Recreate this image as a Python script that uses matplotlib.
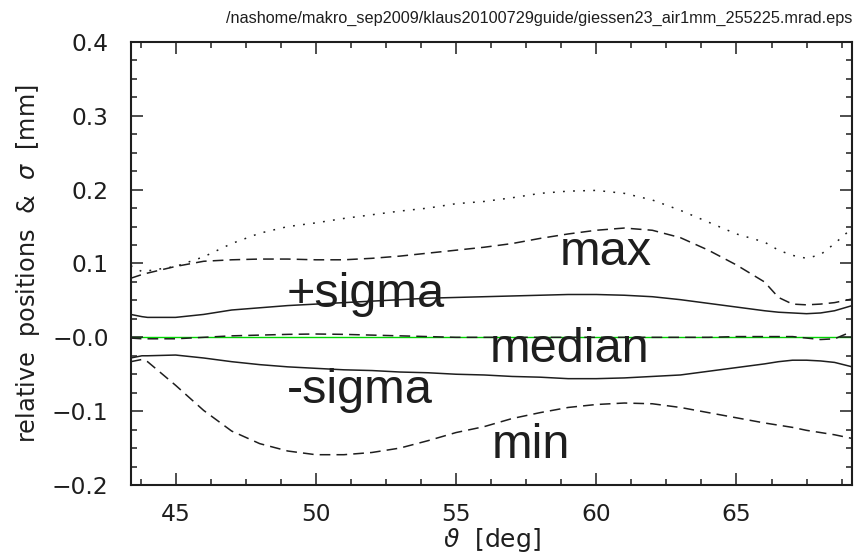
import matplotlib
matplotlib.use('Agg')
import matplotlib.pyplot as plt
from matplotlib.ticker import MultipleLocator, FixedLocator, FixedFormatter

# theta grid [deg] and curves [mm]
theta = [43.4, 43.8, 44, 45, 46, 47, 48, 49, 50, 51, 52, 53, 54, 55, 56, 57,
         58, 59, 60, 61, 62, 63, 64, 65, 66, 66.5, 67, 67.5, 68, 68.5, 69.13]

upper_dotted = [0.097, 0.089, 0.090, 0.096, 0.109, 0.127, 0.141, 0.150, 0.155, 0.161,
                0.166, 0.171, 0.175, 0.181, 0.184, 0.189, 0.195, 0.198, 0.199, 0.195,
                0.186, 0.172, 0.156, 0.140, 0.129, 0.118, 0.111, 0.107, 0.112, 0.127, 0.148]

max_pos = [0.080, 0.085, 0.087, 0.096, 0.103, 0.105, 0.106, 0.106, 0.105, 0.105,
           0.107, 0.110, 0.114, 0.118, 0.122, 0.127, 0.134, 0.140, 0.145, 0.148,
           0.145, 0.135, 0.118, 0.098, 0.075, 0.054, 0.045, 0.044, 0.045, 0.047, 0.052]

plus_sigma = [0.031, 0.028, 0.027, 0.027, 0.031, 0.037, 0.040, 0.043, 0.045, 0.047,
              0.049, 0.051, 0.053, 0.054, 0.055, 0.056, 0.057, 0.058, 0.058, 0.057,
              0.055, 0.051, 0.046, 0.041, 0.036, 0.034, 0.033, 0.032, 0.033, 0.036, 0.043]

median = [-0.001, -0.002, -0.002, -0.002, 0.000, 0.002, 0.003, 0.004, 0.0045, 0.004,
          0.003, 0.002, 0.001, 0.000, 0.000, 0.000, 0.000, 0.000, 0.000, 0.000,
          0.000, 0.000, 0.000, 0.001, 0.001, 0.001, 0.001, -0.001, -0.003, -0.002, 0.008]

minus_sigma = [-0.028, -0.025, -0.025, -0.024, -0.028, -0.033, -0.037, -0.040, -0.042, -0.044,
               -0.045, -0.047, -0.048, -0.050, -0.051, -0.053, -0.054, -0.056, -0.056, -0.055,
               -0.053, -0.051, -0.046, -0.041, -0.036, -0.033, -0.031, -0.031, -0.032, -0.034, -0.040]

min_pos = [-0.033, -0.030, -0.033, -0.065, -0.099, -0.127, -0.144, -0.154, -0.159, -0.159,
           -0.156, -0.150, -0.140, -0.129, -0.121, -0.110, -0.102, -0.095, -0.091, -0.089,
           -0.090, -0.095, -0.102, -0.109, -0.116, -0.119, -0.122, -0.126, -0.129, -0.132, -0.137]

zero_level = 0.0

# curve annotations (text, theta, value at baseline)
label_text = ['max', '+sigma', 'median', '-sigma', 'min']
label_x = [58.70, 48.97, 56.20, 48.97, 56.28]
label_y = [0.098, 0.041, -0.034, -0.089, -0.164]

yticks = [-0.2, -0.1, 0.0, 0.1, 0.2, 0.3, 0.4]
ytick_labels = ['\u22120.2', '\u22120.1', '\u22120.0', '0.1', '0.2', '0.3', '0.4']

file_name = '/nashome/makro_sep2009/klaus20100729guide/giessen23_air1mm_255225.mrad.eps'

plt.rcParams['font.family'] = ['DejaVu Sans']
plt.rcParams['mathtext.fontset'] = 'dejavusans'

fig = plt.figure(figsize=(8.55, 5.57), dpi=100)
ax = fig.add_axes([0.1529, 0.1293, 0.8439, 0.7953])

ink = '#1e1e1e'
ax.axhline(zero_level, color='#00d400', lw=1.0, zorder=1)
ax.plot(theta, upper_dotted, color=ink, lw=1.1, dashes=(1.2, 5.4))
ax.plot(theta, max_pos, color=ink, lw=1.1, dashes=(7.0, 4.0))
ax.plot(theta, plus_sigma, color=ink, lw=1.1)
ax.plot(theta, median, color=ink, lw=1.1, dashes=(7.0, 4.0))
ax.plot(theta, minus_sigma, color=ink, lw=1.1)
ax.plot(theta, min_pos, color=ink, lw=1.1, dashes=(7.0, 4.0))

for txt, x, y in zip(label_text, label_x, label_y):
    ax.text(x, y, txt, fontsize=35, color=ink, ha='left', va='baseline',
            family=['Liberation Sans', 'DejaVu Sans'])

ax.set_xlim(theta[0], theta[-1])
ax.set_ylim(yticks[0], yticks[-1])
ax.xaxis.set_major_locator(MultipleLocator(5))
ax.xaxis.set_minor_locator(MultipleLocator(1.25))
ax.yaxis.set_major_locator(FixedLocator(yticks))
ax.yaxis.set_major_formatter(FixedFormatter(ytick_labels))
ax.yaxis.set_minor_locator(MultipleLocator(0.025))

ax.tick_params(which='both', direction='in', top=True, right=True, width=1.1, color=ink)
ax.tick_params(which='major', length=8.6, labelsize=16.8, labelcolor=ink)
ax.tick_params(which='minor', length=4.3)
ax.tick_params(axis='y', pad=16)
ax.tick_params(axis='x', pad=13)
for sp in ax.spines.values():
    sp.set_linewidth(1.5)
    sp.set_color(ink)

ax.set_xlabel(r'$\vartheta$  [deg]', fontsize=18, color=ink, labelpad=0)
ax.set_ylabel(r'relative  positions  &  $\sigma$  [mm]', fontsize=17.3, color=ink, labelpad=7)

fig.text(852.3 / 855, 1 - 23 / 557, file_name, ha='right', va='baseline',
         fontsize=11.7, color=ink, family=['Liberation Sans', 'DejaVu Sans'])

fig.savefig('out.png', dpi=100)
